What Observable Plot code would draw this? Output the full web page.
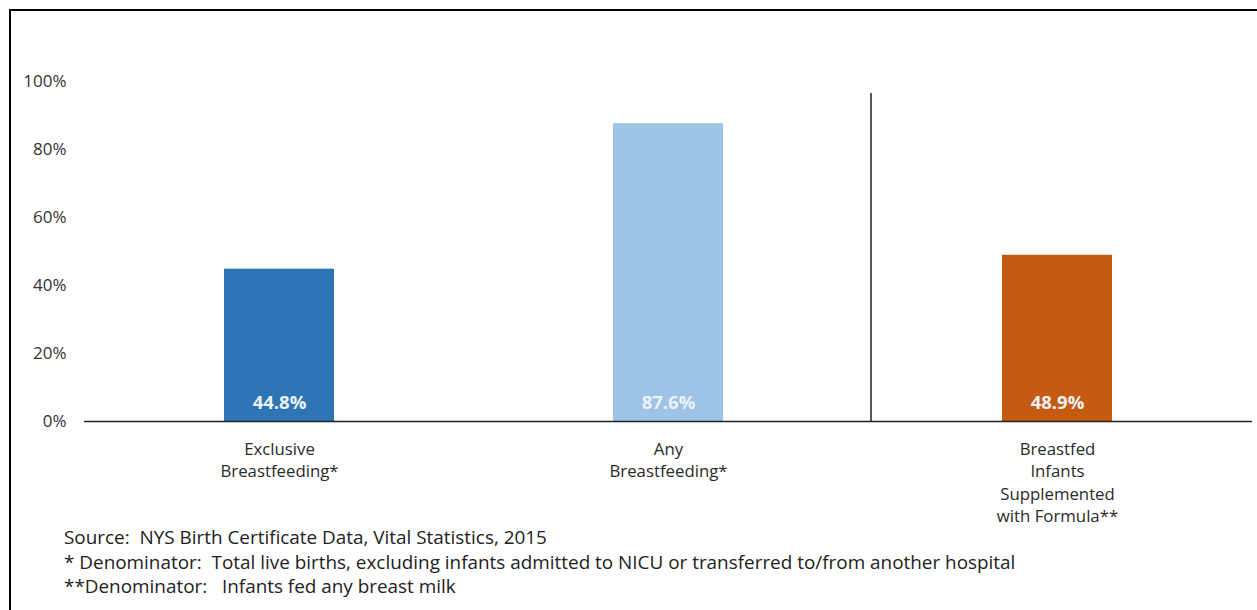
<!DOCTYPE html>
<html>
<head>
<meta charset="utf-8">
<script src="https://cdn.jsdelivr.net/npm/d3@7"></script>
<script src="https://cdn.jsdelivr.net/npm/@observablehq/plot@0.6"></script>
<style>
  html, body { margin: 0; padding: 0; background: #fff; }
  #wrap { position: relative; width: 1257px; height: 610px; overflow: hidden; font-family: "Open Sans", Lato, sans-serif; }
  #frame { position: absolute; left: 9px; top: 9px; width: 1300px; height: 700px; border-left: 2px solid #000; border-top: 2px solid #000; box-sizing: border-box; }
  #chart { position: absolute; left: 0; top: 0; }
  #notes { position: absolute; left: 64px; top: 525px; font-size: 18.9px; color: #222; line-height: 24.5px; white-space: pre; }
</style>
</head>
<body>
<div id="wrap">
  <div id="frame"></div>
  <div id="chart"></div>
  <div id="notes"></div>
</div>
<script>
const categories = ["Exclusive\nBreastfeeding*", "Any\nBreastfeeding*", "Breastfed\nInfants\nSupplemented\nwith Formula**"];
const values = [44.8, 87.6, 48.9];
const colors = ["#2E75B6", "#9DC3E6", "#C55A11"];
const yTicks = [0, 20, 40, 60, 80, 100];
const dividerBefore = categories[2];
const dividerTop = 96.5;
const notes = [
  "Source:  NYS Birth Certificate Data, Vital Statistics, 2015",
  "* Denominator:  Total live births, excluding infants admitted to NICU or transferred to/from another hospital",
  "**Denominator:   Infants fed any breast milk"
];

const data = categories.map((c, i) => ({category: c, value: values[i], color: colors[i]}));

const chart = Plot.plot({
  width: 1257,
  height: 530,
  marginTop: 81,
  marginBottom: 109,
  marginLeft: 84,
  marginRight: 5,
  style: {fontFamily: "'Open Sans', Lato, sans-serif", background: "transparent"},
  x: {domain: categories, paddingInner: 0.717, paddingOuter: 0.3585, align: 0.5},
  y: {domain: [0, 100]},
  marks: [
    Plot.barY(data, {x: "category", y: "value", fill: "color"}),
    Plot.text(data, {x: "category", y: 0, text: d => d.value.toFixed(1) + "%", fill: "#eef3f8", fontWeight: "bold", fontSize: 18.5, dy: -18, lineAnchor: "middle"}),
    Plot.ruleY([0], {stroke: "#222", strokeWidth: 1.5}),
    Plot.ruleX([dividerBefore], {x: d => d, y1: 0, y2: dividerTop, dx: -186.5, stroke: "#222", strokeWidth: 1.5}),
    Plot.axisY({ticks: yTicks, tickFormat: d => d + "%", tickSize: 0, tickPadding: 18, fontSize: 17, fill: "#333", label: null}),
    Plot.axisX({tickSize: 0, tickPadding: 18, fontSize: 16.8, fill: "#2a2a2a", lineHeight: 1.32, label: null})
  ]
});
document.getElementById("chart").appendChild(chart);
document.getElementById("notes").textContent = notes.join("\n");
</script>
</body>
</html>
